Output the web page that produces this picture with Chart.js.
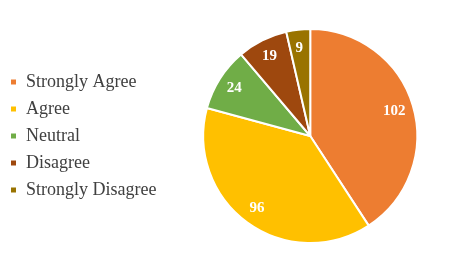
<!DOCTYPE html>
<html>
<head>
<meta charset="utf-8">
<script src="https://cdn.jsdelivr.net/npm/chart.js@4/dist/chart.umd.min.js"></script>
<style>
html, body { margin: 0; padding: 0; background: #fff; }
#wrap { width: 450px; height: 265px; }
</style>
</head>
<body>
<div id="wrap"><canvas id="myChart" width="450" height="265"></canvas></div>
<script>
var labels = ["Strongly Agree", "Agree", "Neutral", "Disagree", "Strongly Disagree"];
var counts = [102, 96, 24, 19, 9];
var colors = ["#ED7D31", "#FFC000", "#70AD47", "#9E480E", "#997300"];

var serif = "Liberation Serif";

// values written inside each slice
var sliceLabels = {
    id: "sliceLabels",
    afterDatasetsDraw: function (chart) {
        var c = chart.ctx;
        var meta = chart.getDatasetMeta(0);
        c.save();
        c.fillStyle = "#ffffff";
        c.font = "bold 15px " + serif;
        c.textAlign = "center";
        c.textBaseline = "middle";
        for (var i = 0; i < meta.data.length; i++) {
            var arc = meta.data[i];
            var mid = (arc.startAngle + arc.endAngle) / 2;
            var r = arc.outerRadius * 0.83;
            c.fillText(counts[i], arc.x + Math.cos(mid) * r - 1, arc.y + Math.sin(mid) * r);
        }
        c.restore();
    }
};

// make the legend a bit wider so the pie sits further right
var widerLegend = {
    id: "widerLegend",
    afterInit: function (chart) {
        var fit = chart.legend.fit;
        chart.legend.fit = function () {
            fit.call(this);
            this.width += 4;
        };
    }
};

var ctx = document.getElementById("myChart").getContext("2d");
var myChart = new Chart(ctx, {
    type: "pie",
    data: {
        labels: labels,
        datasets: [{
            data: counts,
            backgroundColor: colors,
            borderColor: "#ffffff",
            borderWidth: 2
        }]
    },
    options: {
        responsive: false,
        animation: false,
        layout: { padding: { top: 28, bottom: 21, left: 1, right: 0 } },
        plugins: {
            tooltip: { enabled: false },
            legend: {
                position: "left",
                labels: {
                    boxWidth: 7,
                    boxHeight: 7,
                    padding: 9,
                    color: "#404040",
                    font: { family: serif, size: 18 }
                }
            }
        }
    },
    plugins: [sliceLabels, widerLegend]
});
</script>
</body>
</html>
